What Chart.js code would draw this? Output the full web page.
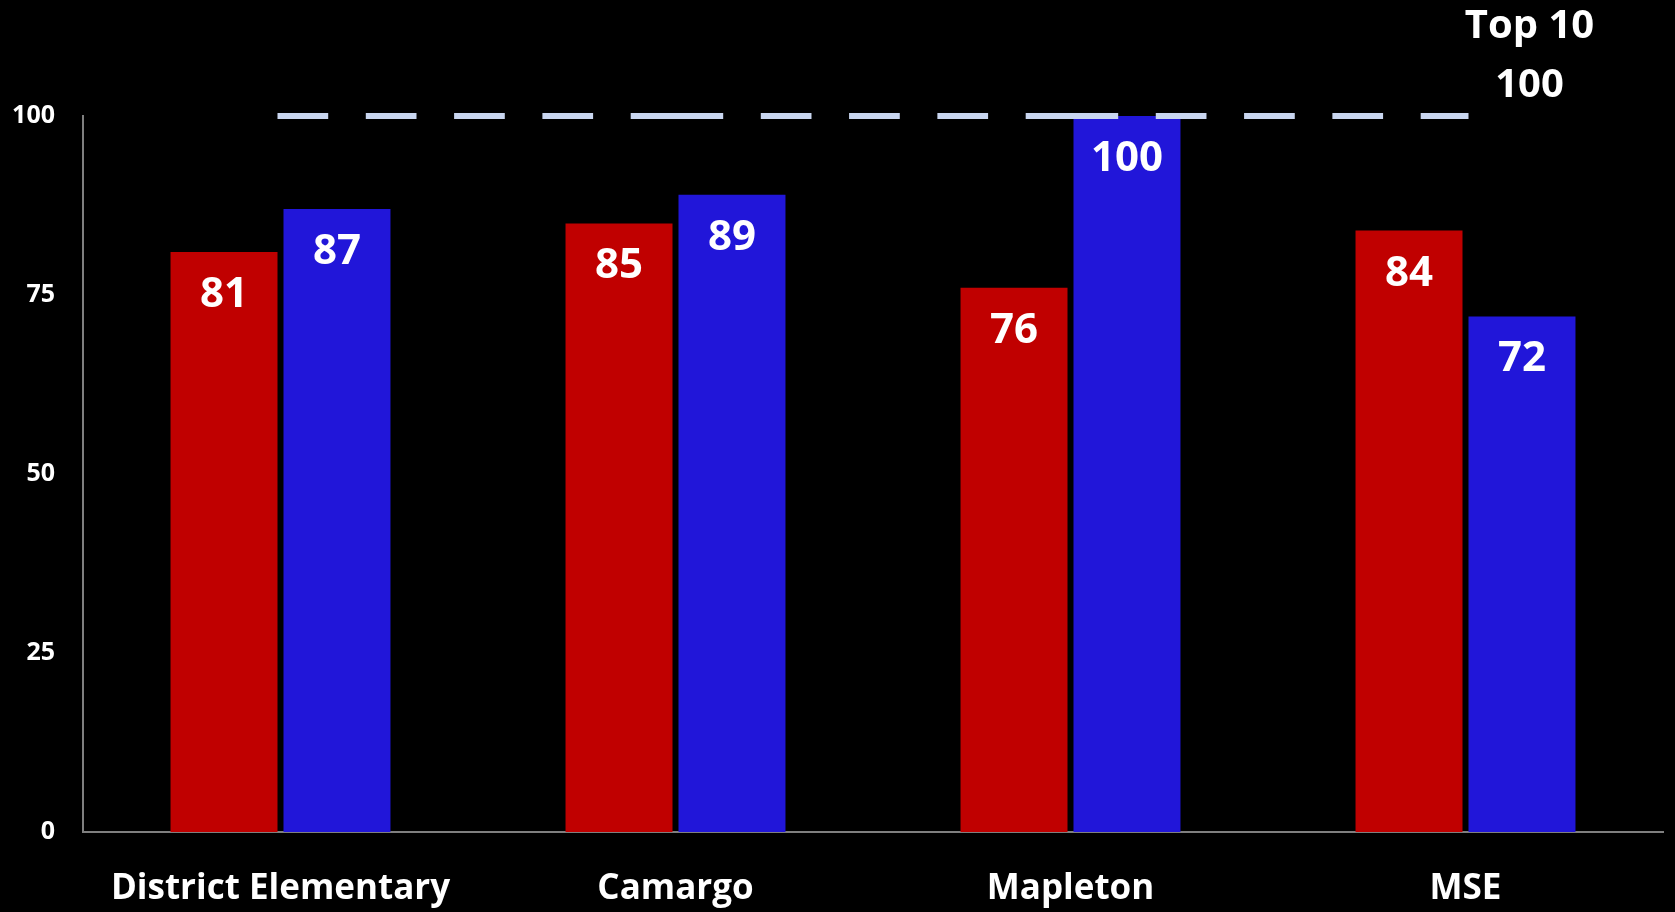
<!DOCTYPE html>
<html><head><meta charset="utf-8">
<script src="https://cdn.jsdelivr.net/npm/chart.js@4.4.0/dist/chart.umd.min.js"></script>
<style>html,body{margin:0;padding:0;background:#000;}#wrap{width:1675px;height:912px;position:relative}</style>
</head><body><div id="wrap"><canvas id="c" width="1675" height="912"></canvas></div>
<script>
const categories = ['District Elementary', 'Camargo', 'Mapleton', 'MSE'];
const seriesRed = [81, 85, 76, 84];
const seriesBlue = [87, 89, 100, 72];
const top10 = [100, 100, 100, 100];
const top10Label = ['Top 10', '100'];
const yMin = 0, yMax = 100, yStep = 25;

const labelPlugin = {
  id: 'valueLabels',
  afterDatasetsDraw(chart) {
    const ctx = chart.ctx;
    ctx.save();
    ctx.fillStyle = '#ffffff';
    ctx.textAlign = 'center';
    ctx.textBaseline = 'middle';
    ctx.font = 'bold 42px "Open Sans"';
    [0, 1].forEach(di => {
      const meta = chart.getDatasetMeta(di);
      meta.data.forEach((bar, i) => {
        const v = chart.data.datasets[di].data[i];
        ctx.fillText(String(v), bar.x, bar.y + 43);
      });
    });
    const lm = chart.getDatasetMeta(2);
    const last = lm.data[lm.data.length - 1];
    ctx.font = 'bold 40px "Open Sans"';
    ctx.fillText(top10Label[0], last.x + 64, last.y - 89);
    ctx.fillText(top10Label[1], last.x + 64, last.y - 30);
    ctx.restore();
  }
};

new Chart(document.getElementById('c'), {
  data: {
    labels: categories,
    datasets: [
      { type: 'bar', label: 'Series 1', data: seriesRed, backgroundColor: '#C00000', order: 1,
        categoryPercentage: 0.572, barPercentage: 0.947 },
      { type: 'bar', label: 'Series 2', data: seriesBlue, backgroundColor: '#2116D9', order: 1,
        categoryPercentage: 0.572, barPercentage: 0.947 },
      { type: 'line', label: 'Top 10', data: top10, borderColor: '#C9D6F0', borderWidth: 6,
        borderDash: [44.7, 43.6], borderCapStyle: 'square', pointRadius: 0, fill: false,
        order: 0, clip: false,
        segment: { borderDashOffset: c => c.p0DataIndex * 0.01 } }
    ]
  },
  options: {
    responsive: false,
    animation: false,
    devicePixelRatio: 1,
    layout: { padding: { top: 116, left: 13, right: 12, bottom: 4 } },
    plugins: { legend: { display: false }, tooltip: { enabled: false } },
    scales: {
      x: {
        grid: { display: false, drawTicks: false },
        border: { display: true, color: '#7F7F7F', width: 2 },
        ticks: { color: '#ffffff', padding: 36, maxRotation: 0, font: { family: 'Open Sans', size: 35, weight: 'bold' } },
        afterFit: s => { s.height = 76; }
      },
      y: {
        min: yMin, max: yMax,
        grid: { display: false, drawTicks: false },
        border: { display: true, color: '#7F7F7F', width: 2 },
        ticks: { stepSize: yStep, color: '#ffffff', padding: 28, font: { family: 'Open Sans', size: 25, weight: 'bold' } },
        afterFit: s => { s.width = 70; }
      }
    }
  },
  plugins: [labelPlugin]
});
</script></body></html>
